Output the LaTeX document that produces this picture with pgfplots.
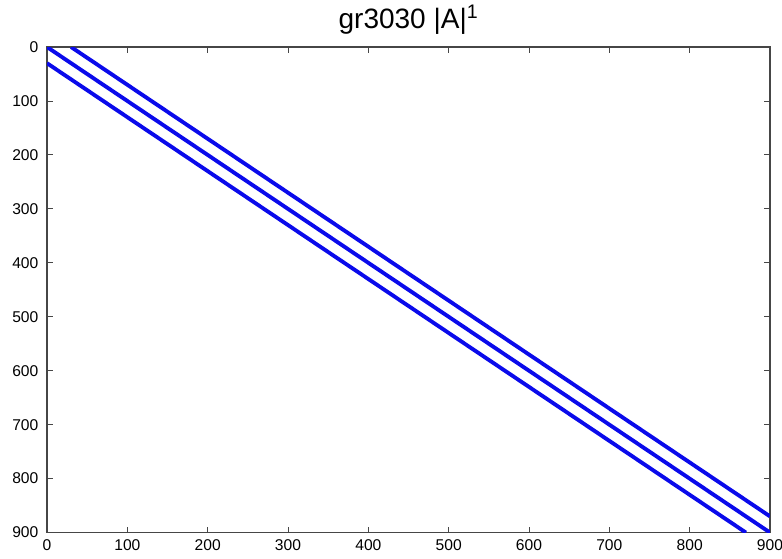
\documentclass[border=0pt]{standalone}
\usepackage{pgfplots}
\pgfplotsset{compat=1.18}
\usepackage{fontspec}
\setmainfont{Liberation Sans}
\definecolor{spy}{RGB}{10,10,235}
\definecolor{frame}{RGB}{70,70,70}
\begin{document}
\begin{tikzpicture}
\begin{axis}[
  name=ax,
  scale only axis,
  width=542pt, height=364pt,
  xmin=0, xmax=900, ymin=0, ymax=900,
  y dir=reverse,
  xtick={0,100,...,900}, ytick={0,100,...,900},
  tick align=inside,
  major tick length=4.5pt,
  axis line style={frame, line width=0.8pt},
  tick style={frame, line width=0.7pt},
  tick label style={font=\fontsize{11.7}{13}\selectfont},
  yticklabel style={xshift=-3pt},
  xticklabel style={yshift=-2pt},
  /pgf/number format/assume math mode=true,
  /pgf/number format/1000 sep={},
  title={gr3030 |A|\textsuperscript{1}},
  title style={font=\fontsize{21}{23}\selectfont, yshift=0pt},
  clip=true,
]
\addplot[spy, line width=2.9pt] coordinates {(0,0) (900,900)};
\addplot[spy, line width=2.9pt] coordinates {(30,0) (900,870)};
\addplot[spy, line width=2.9pt] coordinates {(0,30) (870,900)};
\end{axis}
\pgfresetboundingbox
\path ([shift={(-35.25pt,-19.5pt)}]ax.south west) rectangle ([shift={(9pt,35.25pt)}]ax.north east);
\end{tikzpicture}
\end{document}
